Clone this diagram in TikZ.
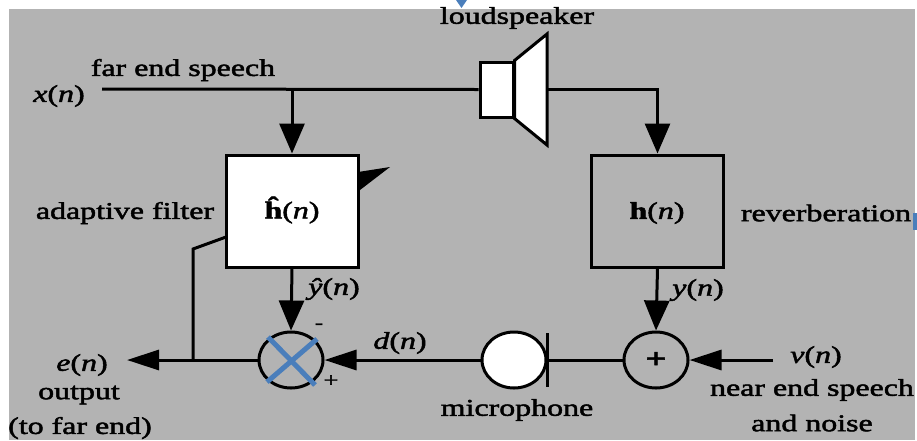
\documentclass[tikz,border=0pt]{standalone}
\usepackage{fontspec}
\setmainfont{Liberation Serif}[FakeStretch=1.33,FakeBold=2]
\usetikzlibrary{arrows.meta,shapes.geometric}
\definecolor{bggray}{RGB}{179,179,179}
\definecolor{markblue}{RGB}{74,126,187}
\tikzset{
  blk/.style={draw, line width=3pt, minimum width=132pt, minimum height=112pt, inner sep=0pt},
  sj/.style={ellipse, draw, line width=3pt, minimum width=64pt, minimum height=56pt, inner sep=0pt},
  lbl/.style={inner sep=0pt},
  arrV/.style={-{Triangle[length=30pt,width=25pt]}},
  arrH/.style={-{Triangle[length=32pt,width=20pt]}},
}
\begin{document}
\begin{tikzpicture}[x=1pt,y=-1pt,line width=3pt,font=\fontsize{24}{26}\selectfont]
\useasboundingbox (0,0) rectangle (917,440);
\fill[bggray] (9,9) rectangle (915,440);
% blue marks
\fill[markblue] (456,0) -- (467,0) -- (461.5,8) -- cycle;
\fill[markblue] (913,213) rectangle (917,230);

% blocks
\node[blk, fill=white] (af) at (292,211) {};
\node[blk] (hb) at (657.5,211) {};
\node[sj] (s1) at (291,360) {};
\node[sj, font=\fontsize{28}{30}\selectfont\bfseries] (s2) at (656,360) {+};
\node[ellipse, draw, fill=white, line width=3pt, minimum width=64pt, minimum height=56pt, inner sep=0pt] (mic) at (514,360) {};
\node[draw, fill=white, line width=3pt, minimum width=33pt, minimum height=55pt, inner sep=0pt] (spk) at (496.5,89.5) {};

% coordinates
\coordinate (xin) at (102,89);
\coordinate (j1) at (292,89);
\coordinate (coneR) at (547,89);
\coordinate (mict) at (547,333);
\coordinate (micb) at (547,387);
\coordinate (micr) at (547,360);
\coordinate (vin) at (773,360);
\coordinate (eout) at (127,360);
\coordinate (afl) at (226,237);
\coordinate (fb1) at (193,249);
\coordinate (fb2) at (193,360);

% connectors
\draw (xin) -- (spk.west);
\draw[arrV] (j1) -- (af.north);
\draw[arrV] (coneR) -| (hb.north);
\draw[arrV] (af.south) -- (s1.north);
\draw[arrV] (hb.south) -- (s2.north);
\draw (micr) -- (s2.west);
\draw[arrH] (mic.west) -- (s1.east);
\draw[arrH] (vin) -- (s2.east);
\draw[arrH] (s1.west) -- (eout);
\draw (afl) -- (fb1) -- (fb2);
\draw (mict) -- (micb);

% loudspeaker cone
\draw[fill=white, line join=miter] (spk.north east) -- (547,34) -- (547,145) -- (spk.south east) -- cycle;
% adaptation wedge
\fill (358,172) -- (390,167) -- (360,190) -- cycle;

% blue cross
\draw[markblue, line width=5pt] (268,337) -- (315,385);
\draw[markblue, line width=5pt] (317,339) -- (267,382);

% texts
\node[lbl] (tbox1) at (292,210) {\textbf{\^{h}}(\textit{n})};
\node[lbl] (tbox2) at (657,213) {\textbf{h}(\textit{n})};
\node[lbl] (tls) at (517,18) {loudspeaker};
\node[lbl] (tx) at (59,96) {\textit{x}(\textit{n})};
\node[lbl] (tfar) at (183,70) {far end speech};
\node[lbl] (tad) at (125,213) {adaptive filter};
\node[lbl] (trev) at (826,213) {reverberation};
\node[lbl] (tyh) at (334,289) {\textit{\^{y}}(\textit{n})};
\node[lbl] (ty) at (698,290) {\textit{y}(\textit{n})};
\node[lbl] (td) at (400,343) {\textit{d}(\textit{n})};
\node[lbl] (te) at (82,365) {\textit{e}(\textit{n})};
\node[lbl] (tout) at (79,395) {output};
\node[lbl] (tfe) at (80,428) {(to far end)};
\node[lbl] (tmic) at (517,410) {microphone};
\node[lbl] (tv) at (816,357) {\textit{v}(\textit{n})};
\node[lbl] (tnear) at (812,390) {near end speech};
\node[lbl] (tnoise) at (812,423) {and noise};
\node[lbl, font=\fontsize{18}{20}\selectfont] (tminus) at (319,326) {-};
\node[lbl, font=\fontsize{20}{22}\selectfont] (tplus) at (331,381) {+};
\end{tikzpicture}
\end{document}
